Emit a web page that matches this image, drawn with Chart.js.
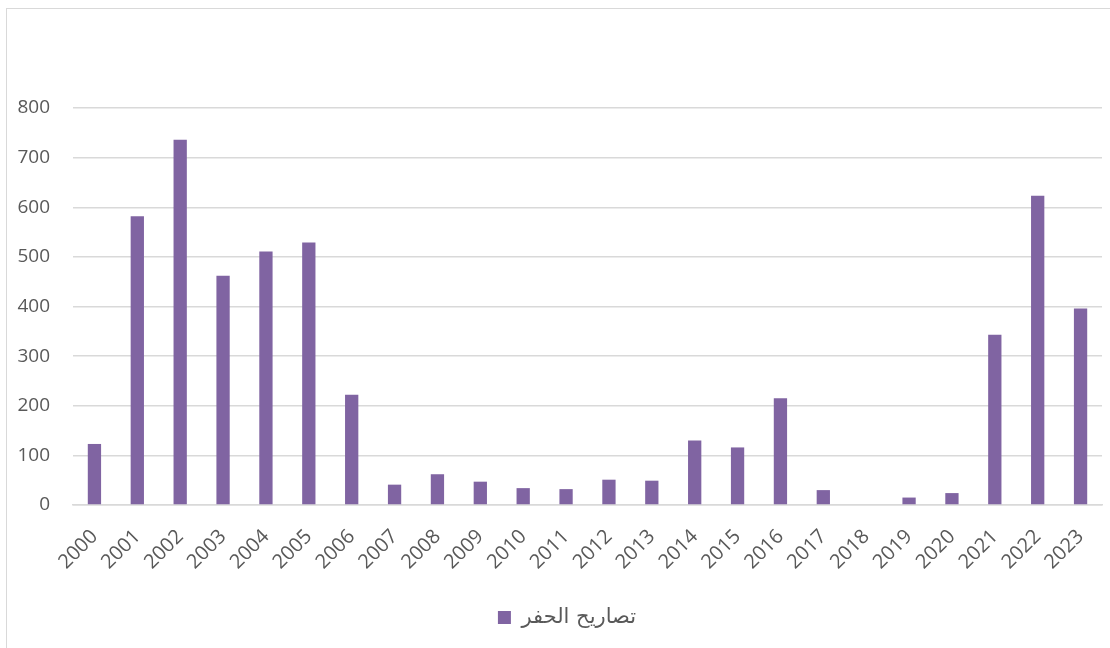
<!DOCTYPE html>
<html>
<head>
<meta charset="utf-8">
<script src="https://cdn.jsdelivr.net/npm/chart.js@4.4.1/dist/chart.umd.min.js"></script>
<style>
  html, body { margin: 0; padding: 0; background: #fff; overflow: hidden; }
  #frame {
    position: absolute; left: 6px; top: 8px; width: 1200px; height: 700px;
    border: 1px solid #d9d9d9; box-sizing: border-box;
  }
  #wrap { position: absolute; left: 0; top: 0; width: 1110px; height: 648px; }
</style>
</head>
<body>
<div id="frame"></div>
<div id="wrap"><canvas id="permitChart"></canvas></div>
<script>
// السنوات وعدد تصاريح الحفر
const years = ["2000", "2001", "2002", "2003", "2004", "2005", "2006", "2007", "2008", "2009", "2010", "2011",
               "2012", "2013", "2014", "2015", "2016", "2017", "2018", "2019", "2020", "2021", "2022", "2023"];
const permits = [123, 582, 736, 462, 511, 529, 222, 41, 62, 47, 34, 32,
                 51, 49, 130, 116, 215, 30, 0, 15, 24, 343, 623, 396];
const seriesName = "تصاريح الحفر";
const yTicks = [0, 100, 200, 300, 400, 500, 600, 700, 800];

const fontFamily = "'Open Sans', 'DejaVu Sans', sans-serif";
const textColor = "#595959";
const gridColor = "#d9d9d9";

// وسيلة الإيضاح في الأصل متوسطة فوق منطقة الرسم وليس فوق كامل العرض
const shiftLegend = {
    id: "shiftLegend",
    afterLayout(chart) {
        chart.legend.left += 32;
    }
};

const ctx = document.getElementById("permitChart").getContext("2d");

new Chart(ctx, {
    type: "bar",
    data: {
        labels: years,
        datasets: [{
            label: seriesName,
            data: permits,
            backgroundColor: "#8064a2",
            borderWidth: 0,
            barPercentage: 0.62,
            categoryPercentage: 0.5
        }]
    },
    plugins: [shiftLegend],
    options: {
        responsive: true,
        maintainAspectRatio: false,
        animation: false,
        layout: {
            padding: { top: 108, left: 0, right: 8, bottom: 10 }
        },
        plugins: {
            tooltip: { enabled: false },
            legend: {
                position: "bottom",
                labels: {
                    color: textColor,
                    font: { family: "'DejaVu Sans', 'Liberation Sans', sans-serif", size: 21 },
                    boxWidth: 13,
                    boxHeight: 13,
                    padding: 9
                }
            }
        },
        scales: {
            x: {
                grid: { display: false, drawTicks: false },
                border: { color: gridColor, width: 1.5 },
                ticks: {
                    color: textColor,
                    font: { family: fontFamily, size: 20 },
                    minRotation: 45,
                    maxRotation: 45,
                    autoSkip: false,
                    padding: 20
                },
                afterFit: s => {
                    s.height = 93;
                    s.paddingLeft = 0;
                    s.paddingRight = 0;
                }
            },
            y: {
                min: 0,
                max: 800,
                afterBuildTicks: s => { s.ticks = yTicks.map(v => ({ value: v })); },
                grid: { color: gridColor, lineWidth: 1.5, drawTicks: false },
                border: { display: false },
                ticks: {
                    color: textColor,
                    font: { family: fontFamily, size: 19 },
                    padding: 23
                },
                afterFit: s => { s.width = 73; }
            }
        }
    }
});
</script>
</body>
</html>
